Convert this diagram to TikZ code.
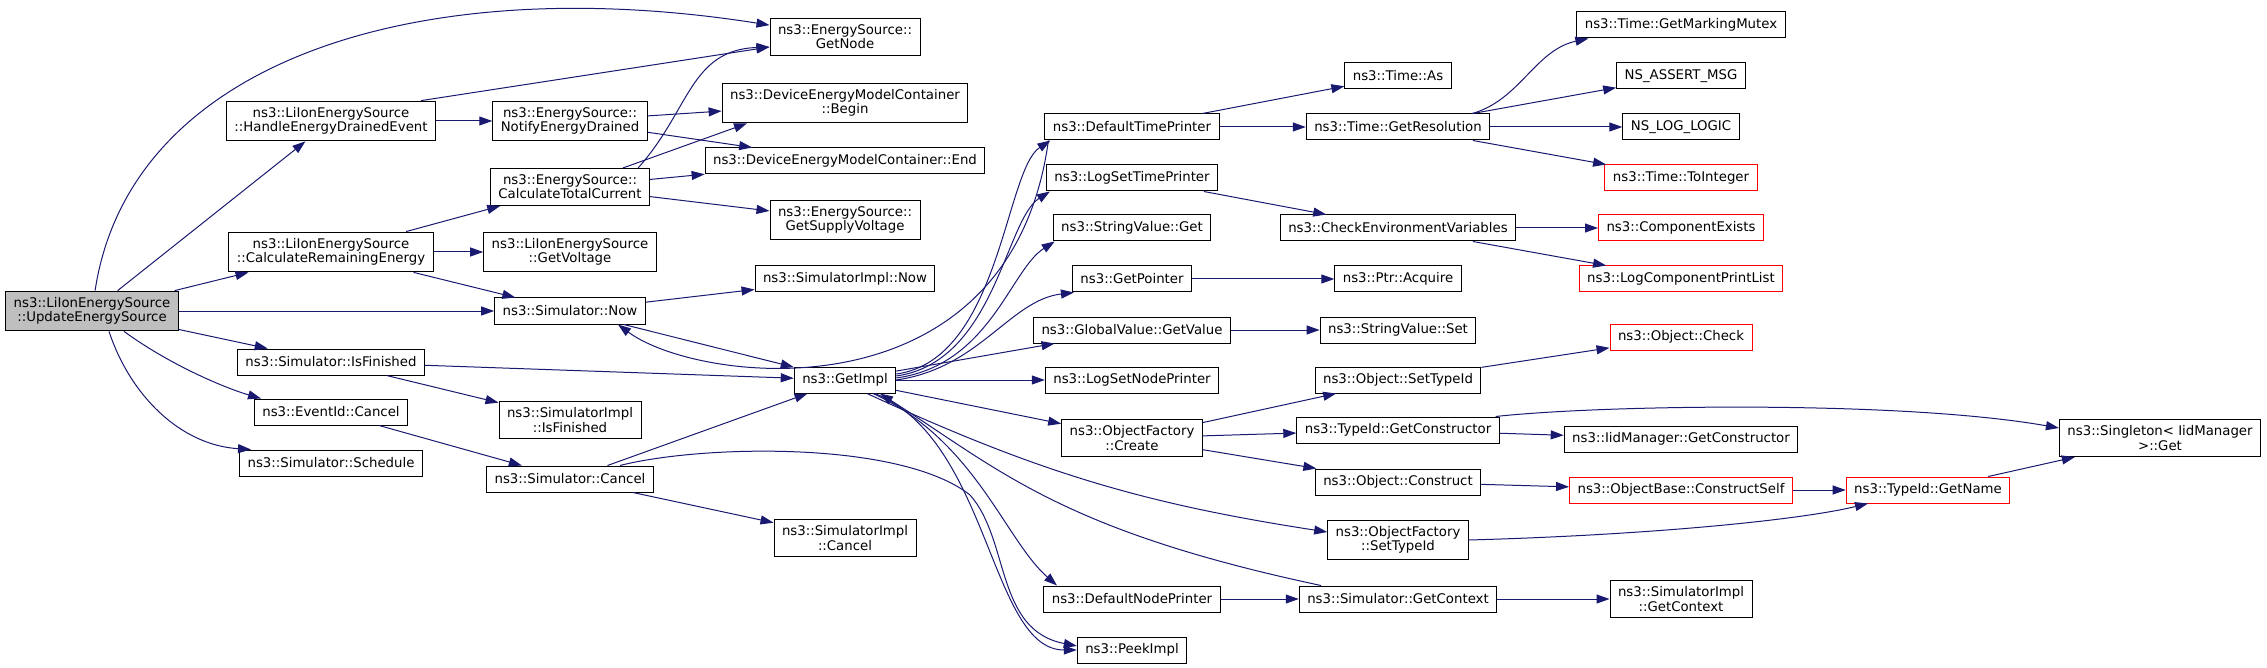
\documentclass[tikz,border=0pt]{standalone}
\usepackage{fontspec}
\setmainfont{DejaVu Sans}
\usepackage{tikz}
\usetikzlibrary{arrows.meta}
\usepackage{xcolor}
\definecolor{callblue}{HTML}{191970}

\begin{document}
\begin{tikzpicture}[x=1pt, y=-1pt,
    fn/.style={draw, line width=1pt, inner xsep=8pt, inner ysep=6.3pt, minimum height=26pt,
      align=center, font={\fontsize{13.3}{14.3}\selectfont}},
    fnred/.style={fn, draw=red},
    fnroot/.style={fn, fill=gray!50},
    call/.style={-{Triangle[length=13pt, width=9pt]}, draw=callblue, line width=1pt}
  ]
  \useasboundingbox (0,0) rectangle (2267,668);

  \node[fnroot] (upd) at (92,311) {ns3::LiIonEnergySource\\::UpdateEnergySource};

  \node[fn] (handle) at (331,121) {ns3::LiIonEnergySource\\::HandleEnergyDrainedEvent};
  \node[fn] (calcRem) at (331,252) {ns3::LiIonEnergySource\\::CalculateRemainingEnergy};
  \node[fn] (isFin) at (331,362) {ns3::Simulator::IsFinished};
  \node[fn] (evCancel) at (331,412) {ns3::EventId::Cancel};
  \node[fn] (sched) at (331,463) {ns3::Simulator::Schedule};

  \node[fn] (notify) at (570,121) {ns3::EnergySource::\\NotifyEnergyDrained};
  \node[fn] (calcCur) at (570,187) {ns3::EnergySource::\\CalculateTotalCurrent};
  \node[fn] (getVolt) at (570,252) {ns3::LiIonEnergySource\\::GetVoltage};
  \node[fn] (now) at (570,311) {ns3::Simulator::Now};
  \node[fn] (implIsFin) at (570,420) {ns3::SimulatorImpl\\::IsFinished};
  \node[fn] (simCancel) at (570,479) {ns3::Simulator::Cancel};

  \node[fn] (getNode) at (845,37) {ns3::EnergySource::\\GetNode};
  \node[fn] (begin) at (845,103) {ns3::DeviceEnergyModelContainer\\::Begin};
  \node[fn] (endC) at (845,161) {ns3::DeviceEnergyModelContainer::End};
  \node[fn] (supply) at (845,220) {ns3::EnergySource::\\GetSupplyVoltage};
  \node[fn] (implNow) at (845,279) {ns3::SimulatorImpl::Now};
  \node[fn] (getImpl) at (845,380) {ns3::GetImpl};
  \node[fn] (implCancel) at (845,538) {ns3::SimulatorImpl\\::Cancel};

  \node[fn] (defTime) at (1132,127) {ns3::DefaultTimePrinter};
  \node[fn] (logTime) at (1132,178) {ns3::LogSetTimePrinter};
  \node[fn] (strGet) at (1132,228) {ns3::StringValue::Get};
  \node[fn] (getPtr) at (1132,279) {ns3::GetPointer};
  \node[fn] (gvGet) at (1132,330) {ns3::GlobalValue::GetValue};
  \node[fn] (logNode) at (1132,380) {ns3::LogSetNodePrinter};
  \node[fn] (ofCreate) at (1132,438) {ns3::ObjectFactory\\::Create};
  \node[fn] (defNode) at (1132,599) {ns3::DefaultNodePrinter};
  \node[fn] (peek) at (1132,650) {ns3::PeekImpl};

  \node[fn] (timeAs) at (1398,76) {ns3::Time::As};
  \node[fn] (getRes) at (1398,127) {ns3::Time::GetResolution};
  \node[fn] (checkEnv) at (1398,228) {ns3::CheckEnvironmentVariables};
  \node[fn] (acquire) at (1398,279) {ns3::Ptr::Acquire};
  \node[fn] (strSet) at (1398,330) {ns3::StringValue::Set};
  \node[fn] (objSetTid) at (1398,380) {ns3::Object::SetTypeId};
  \node[fn] (tidGetCtor) at (1398,430) {ns3::TypeId::GetConstructor};
  \node[fn] (objConstruct) at (1398,482) {ns3::Object::Construct};
  \node[fn] (ofSetTid) at (1398,540) {ns3::ObjectFactory\\::SetTypeId};
  \node[fn] (getCtx) at (1398,599) {ns3::Simulator::GetContext};

  \node[fn] (markMutex) at (1681,25) {ns3::Time::GetMarkingMutex};
  \node[fn] (assertMsg) at (1681,76) {NS\_ASSERT\_MSG};
  \node[fn] (logLogic) at (1681,127) {NS\_LOG\_LOGIC};
  \node[fnred] (toInt) at (1681,178) {ns3::Time::ToInteger};
  \node[fnred] (compExists) at (1681,228) {ns3::ComponentExists};
  \node[fnred] (logPrint) at (1681,279) {ns3::LogComponentPrintList};
  \node[fnred] (objCheck) at (1681,337) {ns3::Object::Check};
  \node[fn] (iidGetCtor) at (1681,439) {ns3::IidManager::GetConstructor};
  \node[fnred] (constructSelf) at (1681,490) {ns3::ObjectBase::ConstructSelf};
  \node[fn] (implGetCtx) at (1681,599) {ns3::SimulatorImpl\\::GetContext};

  \node[fnred] (getName) at (1928,490) {ns3::TypeId::GetName};
  \node[fn] (singleton) at (2160,438) {ns3::Singleton< IidManager\\>::Get};

  \draw[call] (upd) .. controls (130,60) and (420,-30) .. (getNode);
  \draw[call] (upd) -- (handle);
  \draw[call] (upd) -- (calcRem);
  \draw[call] (upd) -- (now);
  \draw[call] (upd) -- (isFin);
  \draw[call] ([xshift=32pt]upd.south) .. controls (170,365) and (225,388) .. ([xshift=-70pt]evCancel.north);
  \draw[call] ([xshift=17pt]upd.south) .. controls (130,395) and (180,445) .. ([xshift=-80pt]sched.north);

  \draw[call] ([xshift=-15pt]handle.north east) -- ([yshift=-10pt]getNode.west);
  \draw[call] (handle) -- (notify);
  \draw[call] (calcRem) -- (calcCur);
  \draw[call] (calcRem) -- (getVolt);
  \draw[call] (calcRem) -- (now);
  \draw[call] (isFin) -- (implIsFin);
  \draw[call] (isFin) -- (getImpl);
  \draw[call] (evCancel) -- (simCancel);

  \draw[call] (notify) -- (begin);
  \draw[call] (notify) -- (endC);
  \draw[call] ([xshift=-12pt]calcCur.north east) .. controls (690,110) and (690,50) .. ([yshift=-10pt]getNode.west);
  \draw[call] (calcCur) -- ([xshift=-98pt]begin.south);
  \draw[call] (calcCur) -- (endC);
  \draw[call] (calcCur) -- (supply);
  \draw[call] (now) -- (implNow);
  \draw[call] (now) -- (getImpl);
  \draw[call] (simCancel) -- (getImpl);
  \draw[call] (simCancel) -- (implCancel);
  \draw[call] ([xshift=50pt]simCancel.north) .. controls (700,445) and (900,440) .. (970,495)
    .. controls (1010,540) and (995,630) .. ([yshift=4pt]peek.west);

  \draw[call] ([yshift=6pt]getImpl.east) .. controls (1000,360) and (1005,170) .. ([xshift=6pt]defTime.south west);
  \draw[call] ([yshift=4pt]getImpl.east) .. controls (995,362) and (1005,220) .. ([xshift=4pt]logTime.south west);
  \draw[call] ([yshift=2pt]getImpl.east) .. controls (990,365) and (1010,270) .. ([xshift=2pt]strGet.south west);
  \draw[call] (getImpl.east) .. controls (980,368) and (1010,300) .. ([xshift=2pt]getPtr.south west);
  \draw[call] (getImpl) -- (gvGet);
  \draw[call] (getImpl) -- (logNode);
  \draw[call] (getImpl) -- (ofCreate);
  \draw[call] ([xshift=22pt]getImpl.south) to[bend right=8] ([yshift=8pt]ofSetTid.west);
  \draw[call] ([xshift=28pt]getImpl.south) .. controls (975,440) and (1005,540) .. ([xshift=-75pt]defNode.north);
  \draw[call] ([xshift=30pt]getImpl.south) .. controls (990,440) and (990,650) .. (peek.west);

  \draw[call] ([xshift=4pt]defTime.south west) .. controls (1010,420) and (700,385) .. ([xshift=48pt]now.south);
  \draw[call] (defTime) -- (timeAs);
  \draw[call] (defTime) -- (getRes);
  \draw[call] (logTime) -- (checkEnv);
  \draw[call] (getPtr) -- (acquire);
  \draw[call] (gvGet) -- (strSet);
  \draw[call] (ofCreate) -- (objSetTid);
  \draw[call] (ofCreate) -- (tidGetCtor);
  \draw[call] (ofCreate) -- (objConstruct);
  \draw[call] (defNode) -- (getCtx);
  \draw[call] ([xshift=-77pt]getCtx.north) .. controls (1060,530) and (1000,470) .. ([xshift=35pt]getImpl.south);

  \draw[call] ([xshift=-18pt]getRes.north east) .. controls (1520,100) and (1535,50) .. ([xshift=12pt]markMutex.south west);
  \draw[call] (getRes) -- (assertMsg);
  \draw[call] (getRes) -- (logLogic);
  \draw[call] (getRes) -- (toInt);
  \draw[call] (checkEnv) -- (compExists);
  \draw[call] (checkEnv) -- (logPrint);
  \draw[call] (objSetTid) -- (objCheck);
  \draw[call] (tidGetCtor) -- (iidGetCtor);
  \draw[call] ([xshift=-4pt]tidGetCtor.north east) .. controls (1600,405) and (1900,400) .. ([yshift=10pt]singleton.west);
  \draw[call] (objConstruct) -- (constructSelf);
  \draw[call] (ofSetTid.east) .. controls (1650,535) and (1800,520) .. ([xshift=-60pt]getName.south);
  \draw[call] (getCtx) -- (implGetCtx);

  \draw[call] (constructSelf) -- (getName);
  \draw[call] (getName) -- (singleton);
\end{tikzpicture}
\end{document}
